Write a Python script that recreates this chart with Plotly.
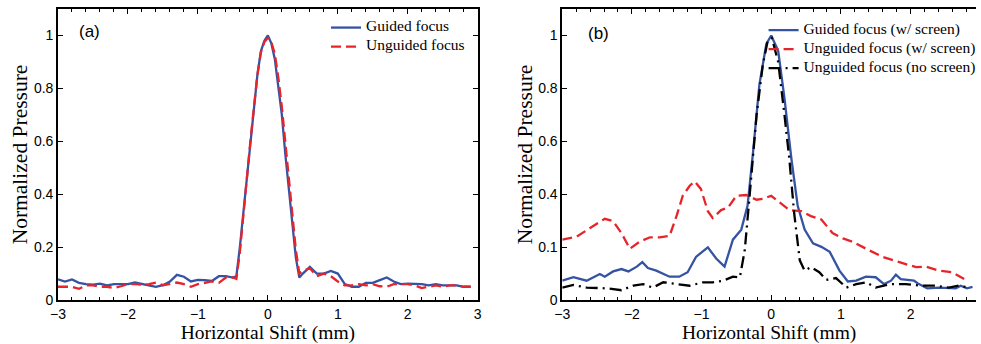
import plotly.graph_objects as go

# ---------------- data ----------------
# panel (a)
xa = [-3.0, -2.9, -2.8, -2.7, -2.6, -2.5, -2.4, -2.3, -2.2, -2.1, -2.0, -1.9, -1.8, -1.7, -1.6,
      -1.5, -1.4, -1.3, -1.2, -1.1, -1.0, -0.9, -0.8, -0.7, -0.6, -0.5,
      -0.45, -0.4, -0.35, -0.3, -0.25, -0.2, -0.15, -0.1, -0.05, 0.0, 0.05, 0.1, 0.15, 0.2, 0.25,
      0.3, 0.35, 0.4, 0.45,
      0.5, 0.6, 0.7, 0.8, 0.9, 1.0, 1.1, 1.2, 1.3, 1.4, 1.5, 1.6, 1.7, 1.8, 1.9, 2.0, 2.1, 2.2,
      2.3, 2.4, 2.5, 2.6, 2.7, 2.8, 2.9]
guided_a = [.078, .07, .078, .065, .06, .058, .062, .055, .06, .06, .06, .066, .06, .055, .05,
            .056, .07, .095, .088, .07, .076, .075, .072, .09, .09, .085,
            .09, .2, .33, .47, .6, .72, .85, .94, .98, 1.0, .97, .91, .81, .70, .55,
            .41, .28, .16, .085,
            .1, .125, .1, .1, .11, .1, .06, .05, .05, .065, .065, .075, .085, .07, .06, .062, .06, .06,
            .055, .06, .055, .056, .055, .05, .05]
unguided_a = [.05, .05, .05, .042, .055, .055, .05, .05, .045, .052, .06, .06, .058, .06, .066,
              .056, .06, .066, .06, .05, .06, .066, .07, .065, .085, .085,
              .08, .18, .31, .46, .6, .72, .85, .935, .975, .99, .975, .93, .84, .73, .59,
              .45, .31, .19, .1,
              .11, .12, .09, .1, .09, .07, .055, .055, .06, .055, .06, .052, .05, .06, .06, .06, .055, .045,
              .05, .055, .05, .055, .055, .05, .05]

# panel (b)
xb_guided = [-3.0, -2.84, -2.65, -2.46, -2.39, -2.27, -2.15, -2.05, -1.93, -1.85, -1.77, -1.65,
             -1.46, -1.32, -1.2, -1.08, -0.91, -0.79, -0.67, -0.55, -0.43, -0.34, -0.26, -0.17,
             -0.07, 0.0, 0.1, 0.19, 0.29, 0.38, 0.48, 0.6, 0.72, 0.84, 0.98, 1.1, 1.22, 1.36,
             1.5, 1.62, 1.72, 1.79, 1.86, 2.05, 2.12, 2.24, 2.41, 2.65, 2.72, 2.81, 2.89]
guided_b = [.073, .086, .073, .098, .088, .108, .117, .108, .126, .143, .121, .111,
            .088, .088, .105, .163, .199, .157, .126, .228, .266, .356, .561, .814,
            .968, 1.0, .942, .763, .533, .356, .266, .214, .201, .182, .111, .07, .073, .088,
            .086, .06, .073, .096, .079, .073, .06, .044, .047, .044, .054, .044, .05]
xb_unguided = [-3.0, -2.79, -2.6, -2.39, -2.27, -2.15, -2.03, -1.89, -1.74, -1.6, -1.46, -1.36,
               -1.27, -1.17, -1.1, -1.01, -0.91, -0.84, -0.72, -0.62, -0.5, -0.36, -0.21, -0.12,
               0.0, 0.12, 0.26, 0.43, 0.57, 0.72, 0.88, 1.03, 1.17, 1.36, 1.6, 1.84, 2.08, 2.22,
               2.41, 2.6, 2.77]
unguided_b = [.228, .24, .272, .307, .298, .253, .194, .22, .237, .237, .242, .317,
              .394, .432, .448, .42, .336, .31, .34, .349, .394, .397, .379, .382,
              .394, .369, .34, .336, .317, .304, .253, .233, .22, .194, .163, .143, .124, .126,
              .111, .105, .079]
xb_noscreen = [-3.0, -2.84, -2.65, -2.36, -2.15, -1.98, -1.84, -1.7, -1.55, -1.36, -1.17, -0.98,
               -0.84, -0.69, -0.55, -0.45, -0.38, -0.31, -0.21, -0.12, -0.05, 0.01, 0.1, 0.19,
               0.26, 0.33, 0.41, 0.48, 0.57, 0.69, 0.79, 0.93, 1.08, 1.22, 1.36, 1.5, 1.7, 1.93,
               2.17, 2.36, 2.55, 2.69, 2.84]
noscreen_b = [.047, .057, .047, .044, .037, .054, .06, .047, .067, .06, .054, .067,
              .067, .073, .088, .086, .188, .394, .70, .89, .98, .99, .90, .70,
              .533, .327, .15, .111, .124, .105, .076, .083, .047, .06, .067, .047, .06, .06,
              .054, .054, .047, .054, .047]

x_ticks = [-3, -2, -1, 0, 1, 2, 3]
x_ticklabels = ["\u22123", "\u22122", "\u22121", "0", "1", "2", "3"]
y_ticks = [0, 0.2, 0.4, 0.6, 0.8, 1]
y_ticklabels_a = ["0", "0.2", "0.4", "0.6", "0.8", "1"]
y_ticklabels_b = ["0", "0.1", "0.4", "0.6", "0.8", "1"]

# ---------------- style ----------------
BLUE = "#3553a3"
RED = "#e8242b"
BLACK = "#000000"
SERIF = "Liberation Serif, Times New Roman, serif"
SANS = "Liberation Sans, Arial, sans-serif"
LEG_FS = 15.5


def lname(s):
    return '<span style="font-size:%spx">%s</span>' % (LEG_FS, s)


fig = go.Figure()
fig.add_trace(go.Scatter(x=xa, y=guided_a, mode="lines", name=lname("Guided focus"),
                         line=dict(color=BLUE, width=2.3), xaxis="x", yaxis="y", legend="legend"))
fig.add_trace(go.Scatter(x=xa, y=unguided_a, mode="lines", name=lname("Unguided focus"),
                         line=dict(color=RED, width=2.3, dash="10px,5px"), xaxis="x", yaxis="y",
                         legend="legend"))
fig.add_trace(go.Scatter(x=xb_guided, y=guided_b, mode="lines", name=lname("Guided focus (w/ screen)"),
                         line=dict(color=BLUE, width=2.3), xaxis="x2", yaxis="y2", legend="legend2"))
fig.add_trace(go.Scatter(x=xb_unguided, y=unguided_b, mode="lines",
                         name=lname("Unguided focus (w/ screen)"),
                         line=dict(color=RED, width=2.3, dash="10px,5px"), xaxis="x2", yaxis="y2",
                         legend="legend2"))
fig.add_trace(go.Scatter(x=xb_noscreen, y=noscreen_b, mode="lines",
                         name=lname("Unguided focus (no screen)"),
                         line=dict(color=BLACK, width=2.3, dash="12px,5px,2px,5px"), xaxis="x2", yaxis="y2",
                         legend="legend2"))

common_x = dict(
    tickmode="array", tickvals=x_ticks, ticktext=x_ticklabels,
    ticks="inside", ticklen=5, tickwidth=1, tickcolor="black",
    minor=dict(dtick=0.2, tick0=0, ticks="inside", ticklen=3, tickcolor="black", showgrid=False),
    showline=True, linecolor="black", linewidth=1.6, mirror="ticks",
    showgrid=False, zeroline=False,
    tickfont=dict(family=SANS, size=14, color="black"),
    title=dict(text="Horizontal Shift (mm)", font=dict(family=SERIF, size=19.5, color="black"),
               standoff=3),
)
common_y = dict(
    tickmode="array", tickvals=y_ticks,
    ticks="inside", ticklen=5, tickwidth=1, tickcolor="black",
    showline=True, linecolor="black", linewidth=1.6,
    showgrid=False, zeroline=False, range=[0, 1.1],
    tickfont=dict(family=SANS, size=14, color="black"),
    title=dict(text="Normalized Pressure", font=dict(family=SERIF, size=21.5, color="black"),
               standoff=0),
)

fig.update_layout(
    width=981, height=344,
    margin=dict(l=58, r=0, t=9, b=44),
    paper_bgcolor="white", plot_bgcolor="white",
    xaxis=dict(common_x, domain=[0, 0.4572], range=[-3, 3], anchor="y"),
    yaxis=dict(common_y, ticktext=y_ticklabels_a, anchor="x", mirror="ticks"),
    xaxis2=dict(common_x, domain=[0.5493, 1], range=[-3, 2.94], anchor="y2"),
    yaxis2=dict(common_y, ticktext=y_ticklabels_b, anchor="x2", mirror=False),
    legend=dict(x=0.4488, xanchor="right", y=0.986, yanchor="top", bgcolor="rgba(0,0,0,0)",
                font=dict(family=SERIF, size=10, color="black"), itemwidth=30,
                tracegroupgap=0),
    legend2=dict(x=1.005, xanchor="right", y=0.977, yanchor="top", bgcolor="rgba(0,0,0,0)",
                 font=dict(family=SERIF, size=10, color="black"), itemwidth=30,
                 tracegroupgap=0),
    annotations=[
        dict(text="(a)", xref="x domain", yref="y domain", x=0.045, y=0.921,
             xanchor="left", yanchor="middle", showarrow=False,
             font=dict(family=SANS, size=17, color="black")),
        dict(text="(b)", xref="x2 domain", yref="y2 domain", x=0.057, y=0.917,
             xanchor="left", yanchor="middle", showarrow=False,
             font=dict(family=SANS, size=17, color="black")),
    ],
)

fig.write_html("out.html", config={"displayModeBar": False},
               post_script="document.body.style.margin='0';")
